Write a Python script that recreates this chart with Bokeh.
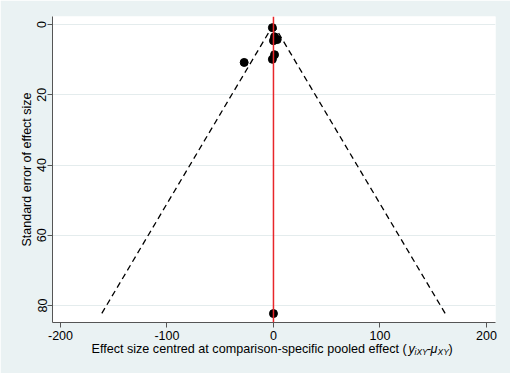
from bokeh.plotting import figure
from bokeh.layouts import column
from bokeh.models import Range1d, Span, Label
from bokeh.embed import file_html
from bokeh.resources import INLINE

# data
effect = [-1.0, 1.0, 3.5, 0.0, 1.0, -1.0, -27.5, 0.0]
std_err = [0.9, 3.5, 4.3, 4.6, 8.6, 9.9, 10.8, 82.3]
funnel_se = [0.0, 82.4]
z = 1.96
x_ticks = [-200, -100, 0, 100, 200]
x_tick_labels = ["-200", "-100", "0", "100", "200"]
y_ticks = [0, 20, 40, 60, 80]

BG = "#eaf2f3"
FONT = "Liberation Sans"
FS = "12.5px"
LEFT, RIGHT = 52, 15

p = figure(width=510, height=373, output_backend="svg", toolbar_location=None,
           x_range=Range1d(-207.5, 208.5), y_range=Range1d(84.84, -2.28),
           min_border_left=LEFT, min_border_right=RIGHT, min_border_top=16, min_border_bottom=51,
           border_fill_color=BG, background_fill_color="white", outline_line_color=None)

# funnel (pseudo 95% CI) lines
p.line([-z * s for s in funnel_se], funnel_se, line_color="black", line_width=1.3, line_dash="6 4")
p.line([z * s for s in funnel_se], funnel_se, line_color="black", line_width=1.3, line_dash="6 4")

# zero line
p.add_layout(Span(location=0, dimension="height", line_color="#e8262a", line_width=1.5))

p.scatter(effect, std_err, size=8, color="black")

# axes
for ax in (p.xaxis, p.yaxis):
    ax.major_tick_in = 0
    ax.major_tick_out = 5
    ax.minor_tick_in = 0
    ax.minor_tick_out = 0
    ax.axis_line_color = "#555555"
    ax.major_tick_line_color = "#555555"
    ax.major_label_text_font = FONT
    ax.major_label_text_font_size = FS
    ax.major_label_text_color = "black"

p.xaxis.ticker = x_ticks
p.xaxis.major_label_overrides = dict(zip(x_ticks, x_tick_labels))
p.yaxis.ticker = y_ticks
p.xaxis.major_label_standoff = 3
p.yaxis.major_label_standoff = 1
p.yaxis.major_label_orientation = "vertical"
p.yaxis.axis_label = "Standard error of effect size"
p.yaxis.axis_label_text_font = FONT
p.yaxis.axis_label_text_font_size = FS
p.yaxis.axis_label_text_font_style = "normal"
p.yaxis.axis_label_text_color = "black"
p.yaxis.axis_label_standoff = 1

p.xgrid.visible = False
p.ygrid.grid_line_color = "#e4eced"
p.ygrid.grid_line_width = 1

# x-axis title on a transparent overlay strip (so the pieces are not clipped)
p2 = figure(width=510, height=40, output_backend="svg", toolbar_location=None,
            x_range=Range1d(LEFT, 510 - RIGHT), y_range=Range1d(40, 0),
            x_axis_type=None, y_axis_type=None, min_border=0,
            outline_line_color=None, background_fill_alpha=0, border_fill_alpha=0,
            margin=(-40, 0, 0, 0))
p2.xgrid.visible = False
p2.ygrid.visible = False

base_y = 15
sub_y = 18
pieces = [
    ("Effect size centred at comparison-specific pooled effect (", 91, base_y, "12.6px", "normal"),
    ("y", 408, base_y, "12.6px", "italic"),
    ("iXY", 414, sub_y, "8.5px", "italic"),
    ("-", 426.5, base_y, "12.6px", "normal"),
    ("\u03bc", 430, base_y, "12.6px", "italic"),
    ("XY", 437, sub_y, "8.5px", "italic"),
    (")", 448, base_y, "12.6px", "normal"),
]
for txt, x, y, fs, style in pieces:
    p2.add_layout(Label(x=x, y=y, text=txt,
                        text_font=FONT, text_font_size=fs,
                        text_font_style=style, text_color="black",
                        text_align="left", text_baseline="alphabetic"))

layout = column(p, p2, spacing=0)
html = file_html(layout, INLINE)
open("out.html", "w").write(html)
